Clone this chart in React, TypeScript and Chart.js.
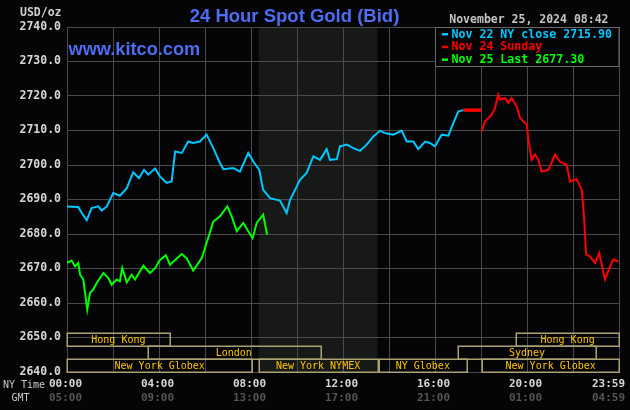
import React, { useEffect, useRef } from "react";
import { Chart, registerables } from "chart.js";

Chart.register(...registerables);

// ---------- data ----------
const nov22Hours = [0, 0.49, 0.64, 0.86, 1.07, 1.36, 1.51, 1.73, 2.01, 2.3, 2.6, 2.88, 3.13, 3.35, 3.53, 3.83, 4.04, 4.33, 4.55, 4.7, 4.99, 5.27, 5.49, 5.78, 6.07, 6.36, 6.65, 6.8, 7.23, 7.52, 7.88, 8.1, 8.36, 8.53, 8.83, 9.26, 9.55, 9.7, 9.99, 10.13, 10.42, 10.71, 11.0, 11.29, 11.43, 11.73, 11.87, 12.16, 12.45, 12.74, 13.03, 13.32, 13.61, 13.9, 14.19, 14.55, 14.77, 15.06, 15.27, 15.57, 15.78, 16.0, 16.29, 16.58, 16.8, 17.01, 17.23];
const nov22Prices = [2688.0, 2687.8, 2686.1, 2684.0, 2687.5, 2688.0, 2686.8, 2688.0, 2691.9, 2691.1, 2693.3, 2697.9, 2696.2, 2698.6, 2697.2, 2699.0, 2696.7, 2694.8, 2695.2, 2703.9, 2703.5, 2706.8, 2706.4, 2706.8, 2708.8, 2704.9, 2700.6, 2698.8, 2699.1, 2698.1, 2703.5, 2701.0, 2698.6, 2692.8, 2690.4, 2689.7, 2686.1, 2689.9, 2693.8, 2695.7, 2697.7, 2702.5, 2701.5, 2704.6, 2701.5, 2701.7, 2705.4, 2705.9, 2704.9, 2704.1, 2705.9, 2708.3, 2709.9, 2709.1, 2708.8, 2710.0, 2706.8, 2706.8, 2704.6, 2706.8, 2706.4, 2705.4, 2708.8, 2708.5, 2712.2, 2715.5, 2715.9];

const closeHours = [17.23, 18.0];
const closePrices = [2715.9, 2715.9];

const nov24Hours = [18.03, 18.17, 18.47, 18.61, 18.75, 18.83, 19.04, 19.19, 19.33, 19.55, 19.7, 19.99, 20.06, 20.2, 20.35, 20.49, 20.64, 20.93, 21.22, 21.43, 21.73, 21.87, 22.16, 22.38, 22.48, 22.57, 22.74, 22.96, 23.14, 23.39, 23.61, 23.75, 23.97];
const nov24Prices = [2709.7, 2712.6, 2714.6, 2716.5, 2720.4, 2718.9, 2719.4, 2718.0, 2719.4, 2717.0, 2713.6, 2711.7, 2707.3, 2701.5, 2703.0, 2701.5, 2698.1, 2698.6, 2703.0, 2701.0, 2700.0, 2695.2, 2695.9, 2692.8, 2685.1, 2674.0, 2673.5, 2671.6, 2674.5, 2666.8, 2670.6, 2672.6, 2672.1];

const nov25Hours = [0, 0.2, 0.35, 0.49, 0.57, 0.71, 0.88, 1.0, 1.14, 1.29, 1.58, 1.8, 1.94, 2.16, 2.3, 2.4, 2.6, 2.81, 2.96, 3.32, 3.61, 3.83, 4.04, 4.3, 4.48, 4.7, 4.99, 5.2, 5.49, 5.86, 6.07, 6.36, 6.65, 6.97, 7.16, 7.38, 7.67, 7.88, 8.07, 8.25, 8.53, 8.7];
const nov25Prices = [2671.6, 2672.3, 2670.6, 2671.6, 2668.2, 2666.8, 2658.1, 2662.9, 2663.9, 2665.8, 2668.7, 2667.2, 2665.3, 2666.8, 2666.3, 2670.1, 2666.0, 2668.2, 2666.8, 2670.8, 2668.7, 2670.1, 2672.5, 2673.8, 2671.1, 2672.5, 2674.2, 2673.0, 2669.4, 2673.0, 2677.4, 2683.6, 2685.1, 2688.0, 2685.1, 2680.8, 2683.2, 2680.8, 2678.8, 2683.2, 2685.6, 2679.8];

const legendLabels = ["Nov 22 NY close 2715.90", "Nov 24 Sunday", "Nov 25 Last 2677.30"];

const labelHours = [0, 4, 8, 12, 16, 20, 24];
const nyTimeLabels = ["00:00", "04:00", "08:00", "12:00", "16:00", "20:00", "23:59"];
const gmtLabels = ["05:00", "09:00", "13:00", "17:00", "21:00", "01:00", "04:59"];

const sessionNames = ["Hong Kong", "Hong Kong", "London", "Sydney", "New York Globex", "New York NYMEX", "NY Globex", "New York Globex"];
const sessionStart = [0, 19.53, 3.5, 17.0, 0, 8.33, 13.56, 18.06];
const sessionEnd = [4.47, 24, 11.0, 23.0, 8.06, 13.5, 17.38, 24];
const sessionRow = [0, 0, 1, 1, 2, 2, 2, 2];

const nymexOpen = 8.33;
const nymexClose = 13.5;

const titleText = "24 Hour Spot Gold (Bid)";
const siteText = "www.kitco.com";
const unitText = "USD/oz";
const dateText = "November 25, 2024 08:42";

// ---------- styles ----------
const BG = "#050508";
const SHADE = "#171917";
const GRID = "#4a4a4a";
const CYAN = "#00c8ff";
const RED = "#ff0000";
const GREEN = "#00ff00";
const BLUE_TEXT = "#4d6df2";
const SESSION_BORDER = "#aaa274";
const SESSION_TEXT = "#ffc400";
const MONO = "'DejaVu Sans Mono', monospace";

const toPoints = (hs: number[], ps: number[]) => hs.map((h, i) => ({ x: h, y: ps[i] }));

const kitcoPlugin = {
  id: "kitco",
  beforeDraw(chart: any) {
    const { ctx, chartArea: a, scales } = chart;
    const x = scales.x;
    ctx.save();
    ctx.fillStyle = BG;
    ctx.fillRect(0, 0, chart.width, chart.height);
    const x0 = x.getPixelForValue(nymexOpen);
    const x1 = x.getPixelForValue(nymexClose);
    ctx.fillStyle = SHADE;
    ctx.fillRect(x0, a.top, x1 - x0, a.bottom - a.top);
    ctx.restore();
  },
  afterDatasetsDraw(chart: any) {
    const { ctx, scales } = chart;
    const x = scales.x;
    const y = scales.y;
    const rowTop = 2651.4;
    const rowSpan = 3.8;
    ctx.save();
    ctx.lineWidth = 1.5;
    ctx.strokeStyle = SESSION_BORDER;
    ctx.font = `10px ${MONO}`;
    ctx.fillStyle = SESSION_TEXT;
    ctx.textAlign = "center";
    ctx.textBaseline = "middle";
    sessionNames.forEach((name, i) => {
      const r = sessionRow[i];
      const top = y.getPixelForValue(rowTop - r * rowSpan);
      const bot = y.getPixelForValue(rowTop - (r + 1) * rowSpan);
      const l = x.getPixelForValue(sessionStart[i]);
      const rr = x.getPixelForValue(sessionEnd[i]);
      ctx.strokeRect(Math.round(l) + 0.25, Math.round(top) + 0.25, Math.round(rr - l), Math.round(bot - top));
      ctx.fillText(name, (l + rr) / 2, (top + bot) / 2 + 1);
    });
    ctx.restore();
  },
  afterDraw(chart: any) {
    const { ctx, scales, chartArea: a } = chart;
    const x = scales.x;
    ctx.save();
    // title
    ctx.fillStyle = BLUE_TEXT;
    ctx.font = `bold 18.5px 'Liberation Sans', Arial, sans-serif`;
    ctx.textAlign = "center";
    ctx.textBaseline = "alphabetic";
    ctx.fillText(titleText, 294.5, 21.7);
    ctx.textAlign = "left";
    ctx.font = `bold 18.2px 'Liberation Sans', Arial, sans-serif`;
    ctx.fillText(siteText, a.left + 1.5, 55);

    // unit and date
    ctx.font = `bold 11.5px ${MONO}`;
    ctx.fillStyle = "#d0d0d0";
    ctx.textBaseline = "middle";
    ctx.textAlign = "right";
    ctx.fillText(unitText, a.left - 5.5, 13.5);
    ctx.fillStyle = "#c4c4c4";
    ctx.fillText(dateText, 608.5, 20);

    // legend box
    const lx = 435.5;
    const ly = a.top;
    const lw = a.right - lx;
    const lh = 39;
    ctx.fillStyle = BG;
    ctx.fillRect(lx, ly, lw, lh);
    ctx.strokeStyle = "#6a6a6a";
    ctx.lineWidth = 1;
    ctx.strokeRect(lx, ly + 0.5, lw, lh);
    const colors = [CYAN, RED, GREEN];
    ctx.font = `bold 11.6px ${MONO}`;
    ctx.textAlign = "left";
    legendLabels.forEach((t, i) => {
      const cy = 34 + i * 12.7;
      ctx.fillStyle = colors[i];
      ctx.fillRect(442, cy - 1, 6, 2.5);
      ctx.fillText(t, 451.5, cy + 0.5);
    });

    // x labels
    ctx.textAlign = "center";
    ctx.font = `bold 11px ${MONO}`;
    labelHours.forEach((h, i) => {
      const px = x.getPixelForValue(h) - 1.5;
      const w1 = ctx.measureText(nyTimeLabels[i]).width;
      const cx = Math.min(px, chart.width - 5 - w1 / 2);
      ctx.fillStyle = "#d8d8d8";
      ctx.fillText(nyTimeLabels[i], cx, 384);
      ctx.fillStyle = "#555555";
      ctx.fillText(gmtLabels[i], cx, 398);
    });
    ctx.textAlign = "left";
    ctx.font = `10px ${MONO}`;
    ctx.fillStyle = "#c8c8c8";
    ctx.fillText("NY Time", 3, 385);
    ctx.fillText("GMT", 11.5, 398);
    ctx.restore();
  },
};

export default function App() {
  const ref = useRef<HTMLCanvasElement | null>(null);
  useEffect(() => {
    if (!ref.current) return;
    const chart = new Chart(ref.current, {
      type: "line",
      data: {
        datasets: [
          { label: "Nov 22", data: toPoints(nov22Hours, nov22Prices), borderColor: CYAN, borderWidth: 2 },
          { label: "close", data: toPoints(closeHours, closePrices), borderColor: RED, borderWidth: 3.5 },
          { label: "Nov 24", data: toPoints(nov24Hours, nov24Prices), borderColor: RED, borderWidth: 2 },
          { label: "Nov 25", data: toPoints(nov25Hours, nov25Prices), borderColor: GREEN, borderWidth: 2 },
        ],
      },
      options: {
        animation: false,
        responsive: false,
        devicePixelRatio: 1,
        elements: { point: { radius: 0 }, line: { tension: 0 } },
        layout: { padding: { left: 0, top: 27, right: 11, bottom: 38 } },
        plugins: { legend: { display: false }, tooltip: { enabled: false }, title: { display: false } },
        scales: {
          x: {
            type: "linear",
            min: 0,
            max: 24,
            afterBuildTicks: (s: any) => {
              s.ticks = [0, 2, 4, 6, 8, 10, 12, 14, 16, 18, 20, 22, 24].map((v) => ({ value: v }));
            },
            afterFit: (s: any) => {
              s.height = 0;
            },
            ticks: { display: false },
            grid: { color: GRID, drawTicks: false, lineWidth: 1 },
            border: { display: true, color: GRID },
          },
          y: {
            min: 2640,
            max: 2740,
            afterFit: (s: any) => {
              s.width = 67;
            },
            ticks: {
              stepSize: 10,
              padding: 6,
              color: "#d8d8d8",
              font: { family: MONO, size: 11.5, weight: "bold" },
              callback: (v: any) => Number(v).toFixed(1),
            },
            grid: { color: GRID, drawTicks: false, lineWidth: 1 },
            border: { display: true, color: GRID },
          },
        },
      } as any,
      plugins: [kitcoPlugin],
    });
    return () => chart.destroy();
  }, []);
  return (
    <div style={{ position: "absolute", left: 0, top: 0, width: 630, height: 410 }}>
      <canvas ref={ref} width={630} height={410} />
    </div>
  );
}
